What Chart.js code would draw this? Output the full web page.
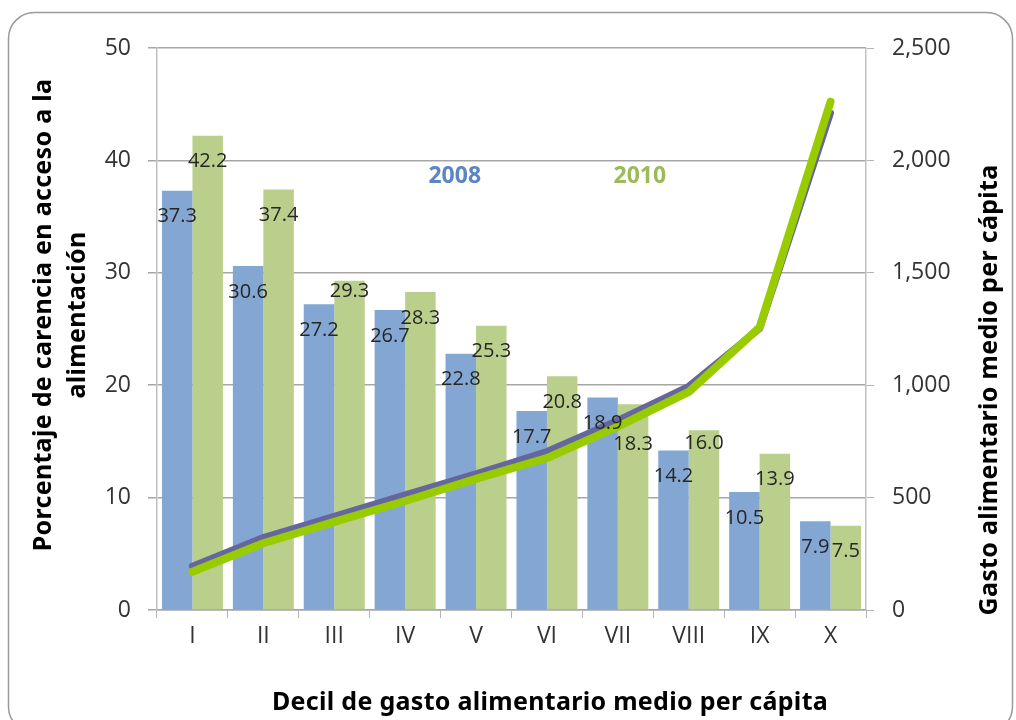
<!DOCTYPE html>
<html>
<head>
<meta charset="utf-8">
<script src="https://cdn.jsdelivr.net/npm/chart.js@4/dist/chart.umd.min.js"></script>
<style>
  html, body { margin: 0; padding: 0; background: #fff; }
  #wrap { width: 1016px; height: 720px; }
</style>
</head>
<body>
<div id="wrap"><canvas id="c" width="1016" height="720"></canvas></div>
<script>
// Deciles of per-capita food spending
const deciles = ['I', 'II', 'III', 'IV', 'V', 'VI', 'VII', 'VIII', 'IX', 'X'];

// Share of population lacking access to food (%)
const carencia2008 = [37.3, 30.6, 27.2, 26.7, 22.8, 17.7, 18.9, 14.2, 10.5, 7.9];
const carencia2010 = [42.2, 37.4, 29.3, 28.3, 25.3, 20.8, 18.3, 16.0, 13.9, 7.5];

// Average per-capita food spending (right axis)
const gasto2008 = [195, 322, 417, 512, 606, 705, 843, 995, 1252, 2211];
const gasto2010 = [170, 297, 392, 485, 583, 676, 816, 970, 1258, 2261];

// Axis tick settings
const pctTicks = { min: 0, max: 50, step: 10 };
const gastoTicks = { min: 0, max: 2500, step: 500 };

const FONT = '"Open Sans", "DejaVu Sans", sans-serif';
const BOLD_FONT = '"Noto Sans", "Open Sans", sans-serif';
const BLUE_BAR = '#83a7d2';
const GREEN_BAR = '#bacf8c';

// Rounded frame around the whole figure
const framePlugin = {
  id: 'frame',
  beforeDraw(chart) {
    const ctx = chart.ctx;
    ctx.save();
    ctx.fillStyle = '#ffffff';
    ctx.fillRect(0, 0, chart.width, chart.height);
    ctx.beginPath();
    ctx.roundRect(8.5, 12.5, 1004, 720, 26);
    ctx.strokeStyle = '#9a9a9a';
    ctx.lineWidth = 1.5;
    ctx.stroke();
    ctx.restore();
  }
};

// Value labels inside the top of each bar
const barLabelPlugin = {
  id: 'barLabels',
  afterDatasetsDraw(chart, args, opts) {
    const ctx = chart.ctx;
    ctx.save();
    ctx.font = '20px ' + FONT;
    ctx.fillStyle = '#262626';
    ctx.textAlign = 'center';
    ctx.textBaseline = 'middle';
    chart.data.datasets.forEach((ds, di) => {
      if (ds.type !== 'bar') return;
      const meta = chart.getDatasetMeta(di);
      meta.data.forEach((bar, i) => {
        const key = di + ':' + i;
        const dy = (opts.nudge && opts.nudge[key] !== undefined) ? opts.nudge[key] : opts.offset;
        ctx.fillText(ds.data[i].toFixed(1), bar.x, bar.y + dy);
      });
    });
    ctx.restore();
  }
};

// Series names placed inside the plot, plus the axis titles
const textPlugin = {
  id: 'texts',
  afterDraw(chart) {
    const ctx = chart.ctx;
    const x = chart.scales.x, y = chart.scales.y;
    ctx.save();
    ctx.textAlign = 'center';
    ctx.textBaseline = 'middle';
    ctx.font = 'bold 23px ' + BOLD_FONT;
    ctx.fillStyle = '#5a86c4';
    ctx.fillText('2008', x.getPixelForValue(3.7), y.getPixelForValue(38.6));
    ctx.fillStyle = '#9bbb59';
    ctx.fillText('2010', x.getPixelForValue(6.31), y.getPixelForValue(38.6));

    ctx.fillStyle = '#000000';
    ctx.font = 'bold 25px ' + BOLD_FONT;
    ctx.letterSpacing = '0.3px';
    ctx.fillText('Decil de gasto alimentario medio per cápita', 550, 703);

    ctx.save();
    ctx.translate(44, 315);
    ctx.rotate(-Math.PI / 2);
    ctx.fillText('Porcentaje de carencia en acceso a la', 0, 0);
    ctx.fillText('alimentación', 0, 34);
    ctx.restore();

    ctx.save();
    ctx.translate(990, 390);
    ctx.rotate(-Math.PI / 2);
    ctx.fillText('Gasto alimentario medio per cápita', 0, 0);
    ctx.restore();
    ctx.restore();
  }
};

new Chart(document.getElementById('c'), {
  data: {
    labels: deciles,
    datasets: [
      { type: 'bar', label: '2008', data: carencia2008, yAxisID: 'y',
        backgroundColor: BLUE_BAR, categoryPercentage: 0.86, barPercentage: 1, order: 2 },
      { type: 'bar', label: '2010', data: carencia2010, yAxisID: 'y',
        backgroundColor: GREEN_BAR, categoryPercentage: 0.86, barPercentage: 1, order: 2 },
      { type: 'line', label: 'Gasto 2008', data: gasto2008, yAxisID: 'y1',
        borderColor: '#66669e', borderWidth: 7, pointRadius: 0, tension: 0,
        borderCapStyle: 'round', borderJoinStyle: 'round', fill: false, order: 1 },
      { type: 'line', label: 'Gasto 2010', data: gasto2010, yAxisID: 'y1',
        borderColor: '#99cc00', borderWidth: 8, pointRadius: 0, tension: 0,
        borderCapStyle: 'round', borderJoinStyle: 'round', fill: false, order: 0 }
    ]
  },
  options: {
    responsive: false,
    animation: false,
    layout: { padding: { top: 48, left: 0, right: 0, bottom: 0 } },
    plugins: {
      legend: { display: false },
      tooltip: { enabled: false },
      barLabels: { offset: 26, nudge: { '1:2': 11, '1:6': 40, '1:7': 13 } }
    },
    scales: {
      x: {
        type: 'category',
        grid: { offset: true, drawOnChartArea: false, drawTicks: true, tickLength: 8, color: '#b5b5b5' },
        border: { color: '#a6a6a6', width: 1.5 },
        ticks: { font: { family: FONT, size: 23 }, color: '#333333', padding: 5 },
        afterFit(s) { s.height = 110; }
      },
      y: {
        position: 'left',
        min: pctTicks.min, max: pctTicks.max,
        ticks: { stepSize: pctTicks.step, font: { family: FONT, size: 23 }, color: '#333333', padding: 17 },
        grid: { color: '#a6a6a6', lineWidth: 1.5, tickLength: 9 },
        border: { color: '#c0c0c0', width: 1.5 },
        afterFit(s) { s.width = 157; }
      },
      y1: {
        position: 'right',
        min: gastoTicks.min, max: gastoTicks.max,
        ticks: {
          stepSize: gastoTicks.step, font: { family: FONT, size: 23 }, color: '#333333', padding: 18,
          callback: v => v.toLocaleString('en-US')
        },
        grid: { drawOnChartArea: false, drawTicks: true, tickLength: 8, color: '#b5b5b5' },
        border: { color: '#c0c0c0', width: 1.5 },
        afterFit(s) { s.width = 150; }
      }
    }
  },
  plugins: [framePlugin, barLabelPlugin, textPlugin]
});
</script>
</body>
</html>
